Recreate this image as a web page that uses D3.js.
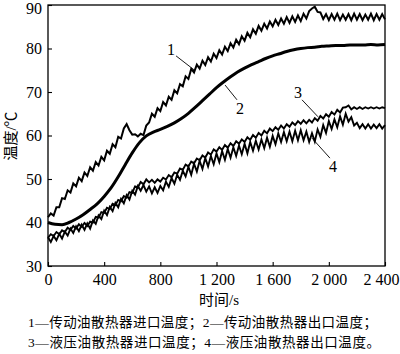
<!DOCTYPE html>
<html><head><meta charset="utf-8">
<script src="https://cdn.jsdelivr.net/npm/d3@7"></script>
<style>
html,body{margin:0;padding:0;background:#fff;}
svg{display:block;}
</style></head>
<body>
<script>
// ---- data ----
const xTicks = [0, 400, 800, 1200, 1600, 2000, 2400];
const xTickLabels = ["0", "400", "800", "1 200", "1 600", "2 000", "2 400"];
const yTicks = [30, 40, 50, 60, 70, 80, 90];
const step1 = 20; // s, sampling of curves 1,3,4
const step2 = 50; // s, sampling of curve 2

// 1 — 传动油散热器进口温度
const s1 = [41.2,42.1,41.6,43.5,43.5,45.6,45.4,47.4,46.9,49.0,48.3,50.3,49.5,51.5,50.7,52.7,51.9,53.9,53.1,55.1,
54.3,56.5,55.8,58.0,57.3,59.7,59.3,61.6,62.6,61.2,60.2,60.3,59.8,60.4,60.1,62.3,63.0,65.0,64.3,66.3,
65.6,67.7,66.9,68.9,68.2,70.4,69.7,71.8,71.3,73.6,73.0,75.3,74.5,76.3,75.4,77.2,76.2,78.0,77.0,78.8,
77.8,79.6,78.6,80.4,79.4,81.2,80.2,82.0,81.0,82.8,81.8,83.6,82.6,84.4,83.4,85.2,84.1,85.7,84.6,86.2,
85.1,86.6,85.4,86.9,85.7,87.2,85.9,87.4,86.1,87.6,86.3,88.0,86.9,88.6,89.2,89.6,88.4,88.3,86.8,87.9,
86.5,87.9,86.6,88.0,86.5,87.8,86.6,87.9,86.5,88.0,86.6,87.9,86.5,87.8,86.6,88.0,86.5,87.9,86.6,87.9,86.7];

// 2 — 传动油散热器出口温度
const s2 = [40.0,39.6,39.5,40.0,40.8,41.8,43.0,44.3,46.0,48.0,50.5,53.3,56.0,58.3,59.9,60.8,61.4,62.1,62.9,63.9,
65.1,66.5,68.0,69.5,71.0,72.3,73.5,74.6,75.5,76.3,77.0,77.7,78.3,78.8,79.3,79.7,80.0,80.2,80.3,80.5,
80.6,80.7,80.7,80.8,80.8,80.8,80.9,80.8,80.9];

// 3 — 液压油散热器进口温度
const s3 = [36.5,37.3,36.9,37.8,37.3,38.2,37.8,38.8,38.3,39.2,38.6,39.6,39.0,39.9,39.2,40.2,40.0,41.3,41.1,42.4,
42.2,43.4,43.1,44.3,44.0,45.2,44.9,46.1,45.7,47.0,46.8,48.3,48.1,49.3,48.8,49.9,49.2,49.8,49.1,49.9,
49.4,50.3,49.9,50.9,50.4,51.5,51.2,52.4,52.1,53.3,52.9,54.0,53.6,54.7,54.3,55.4,54.9,56.1,55.6,56.8,
56.3,57.3,56.7,57.8,57.2,58.2,57.6,58.7,58.1,59.1,58.5,59.6,59.0,60.1,59.5,60.6,60.0,61.1,60.5,61.6,
61.0,61.9,61.3,62.3,61.6,62.6,62.0,63.0,62.4,63.3,62.7,63.5,62.8,63.6,63.0,64.0,63.4,64.5,63.9,64.9,
64.3,65.4,64.8,65.9,65.3,66.4,66.5,66.9,66.0,66.5,66.1,66.5,66.1,66.5,66.2,66.5,66.2,66.5,66.2,66.5,66.3];

// 4 — 液压油散热器出口温度
const s4 = [36.6,35.5,36.9,35.9,37.4,36.3,37.9,37.0,38.6,37.6,39.1,38.0,39.5,38.3,39.8,38.6,40.5,39.7,41.6,40.8,
42.7,41.7,43.6,42.6,44.5,43.5,45.4,44.4,46.3,45.3,47.3,46.4,48.4,47.3,48.6,47.1,48.3,46.7,48.1,46.8,
48.4,47.4,49.4,48.2,50.2,48.9,51.0,49.8,51.9,50.6,52.8,51.0,53.5,51.7,54.2,52.3,54.8,52.9,55.3,53.4,
55.9,53.9,56.4,54.4,56.9,54.9,57.3,55.3,57.7,55.7,58.1,55.9,58.5,56.5,58.8,56.8,59.1,57.1,59.5,57.4,
59.9,58.0,60.5,58.5,60.8,58.7,60.9,58.7,61.1,58.9,61.2,58.9,60.9,58.5,60.5,58.6,61.4,59.7,62.4,60.6,
63.3,61.5,63.7,61.9,64.4,62.5,65.0,63.2,64.2,62.3,62.9,61.7,62.6,61.6,62.6,61.6,62.5,61.7,62.6,61.6,62.4];

// curve labels: [text, label t, label T, line t1, T1, line t2, T2]
const curveLabels = [
  ["1", 876, 79.7, 912, 78.3, 1040, 75.1],
  ["2", 1367, 66.3, 1346, 68.2, 1261, 71.6],
  ["3", 1780, 70.0, 1809, 68.2, 1923, 64.3],
  ["4", 2030, 52.8, 2008, 54.8, 1880, 59.4]
];
const xTitle = "时间/s";
const yTitle = "温度/℃";
const legendLines = ["1—传动油散热器进口温度；2—传动油散热器出口温度；",
                     "3—液压油散热器进口温度；4—液压油散热器出口温度。"];

// ---- drawing ----
const W = 400, H = 354;
const m = {left: 48, right: 15, top: 5, bottom: 88};
const svg = d3.select("body").append("svg").attr("width", W).attr("height", H);
const x = d3.scaleLinear().domain([0, 2400]).range([m.left, W - m.right]);
const y = d3.scaleLinear().domain([30, 90]).range([H - m.bottom, m.top]);
const numFont = "'Liberation Serif','Times New Roman',serif";
const cjkFont = "'Liberation Serif','Noto Sans CJK SC',serif";

// frame
svg.append("rect").attr("x", x(0)).attr("y", y(90))
  .attr("width", x(2400) - x(0)).attr("height", y(30) - y(90))
  .attr("fill", "none").attr("stroke", "#000").attr("stroke-width", 1.3);

// axes
const xAxis = d3.axisBottom(x).tickValues(xTicks)
  .tickFormat((d, i) => xTickLabels[i]).tickSizeInner(-4).tickSizeOuter(0).tickPadding(8);
const gx = svg.append("g").attr("transform", `translate(0,${y(30)})`).call(xAxis);
gx.select(".domain").remove();
gx.selectAll("line").attr("stroke", "#000").attr("stroke-width", 1.1);
gx.selectAll("text").attr("font-family", numFont).attr("font-size", 16).attr("fill", "#000");
gx.selectAll(".tick").filter(d => d === 2400).select("text")
  .attr("text-anchor", "end").attr("x", W - 1 - x(2400));

const yAxis = d3.axisLeft(y).tickValues(yTicks).tickSizeInner(-4).tickSizeOuter(0).tickPadding(6);
const gy = svg.append("g").attr("transform", `translate(${x(0)},0)`).call(yAxis);
gy.select(".domain").remove();
gy.selectAll("line").attr("stroke", "#000").attr("stroke-width", 1.1);
gy.selectAll("text").attr("font-family", numFont).attr("font-size", 16).attr("fill", "#000");
gy.selectAll(".tick").filter(d => d === 90).select("text").attr("dy", "0.5em");

// lines
const line1 = d3.line().x((d, i) => x(i * step1)).y(d => y(d));
const line2 = d3.line().x((d, i) => x(i * step2)).y(d => y(d)).curve(d3.curveMonotoneX);
const g = svg.append("g");
g.append("path").attr("d", line2(s2)).attr("fill", "none").attr("stroke", "#000").attr("stroke-width", 3);
g.append("path").attr("d", line1(s3)).attr("fill", "none").attr("stroke", "#000").attr("stroke-width", 1.9);
g.append("path").attr("d", line1(s4)).attr("fill", "none").attr("stroke", "#000").attr("stroke-width", 1.9);
g.append("path").attr("d", line1(s1)).attr("fill", "none").attr("stroke", "#000").attr("stroke-width", 2);

// curve labels
curveLabels.forEach(c => {
  svg.append("line").attr("x1", x(c[3])).attr("y1", y(c[4])).attr("x2", x(c[5])).attr("y2", y(c[6]))
    .attr("stroke", "#000").attr("stroke-width", 0.9);
  svg.append("text").attr("x", x(c[1])).attr("y", y(c[2])).attr("text-anchor", "middle")
    .attr("dominant-baseline", "central").attr("font-family", numFont).attr("font-size", 16).text(c[0]);
});

// axis titles
svg.append("text").attr("x", 219).attr("y", 300).attr("text-anchor", "middle").attr("dominant-baseline", "central")
  .attr("font-family", cjkFont).attr("font-size", 15).text(xTitle);
svg.append("text").attr("transform", "translate(11,136) rotate(-90)").attr("text-anchor", "middle")
  .attr("dominant-baseline", "central").attr("font-family", cjkFont).attr("font-size", 15).text(yTitle);

// legend
legendLines.forEach((t, i) => {
  svg.append("text").attr("x", 28).attr("y", 322 + i * 20).attr("dominant-baseline", "central")
    .attr("font-family", cjkFont).attr("font-size", 13.5)
    .attr("textLength", i === 0 ? 349 : 352).attr("lengthAdjust", "spacing").text(t);
});
</script>
</body></html>
